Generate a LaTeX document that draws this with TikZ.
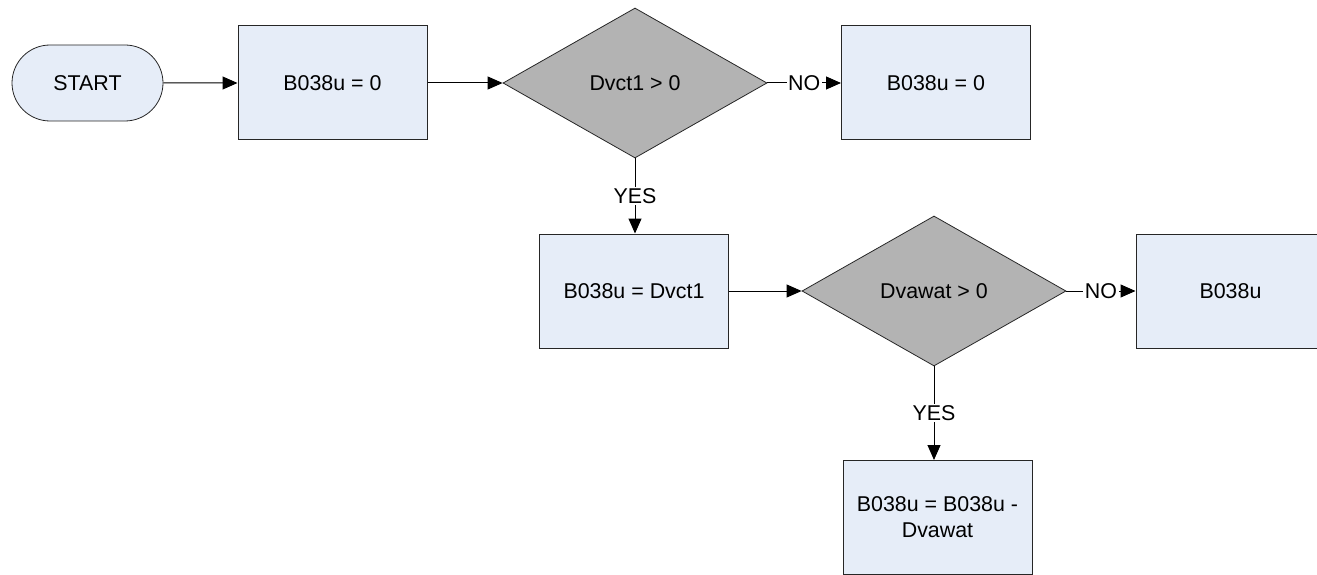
\documentclass[tikz,border=0pt]{standalone}
\usepackage{fontspec}
\setmainfont{Liberation Sans}
\usetikzlibrary{shapes.geometric,shapes.misc,arrows.meta}
\definecolor{boxfill}{HTML}{E6EDF8}
\definecolor{decfill}{HTML}{B3B3B3}
\begin{document}
\begin{tikzpicture}[x=1pt,y=-1pt,
  every node/.style={font=\fontsize{21.4}{26}\selectfont},
  procbox/.style={draw=black!85,fill=boxfill,line width=1pt,minimum width=189pt,minimum height=114pt,inner sep=0pt,align=center},
  decbox/.style={draw=black!85,fill=decfill,line width=0.8pt,diamond,minimum width=264pt,minimum height=150pt,inner sep=0pt},
  termbox/.style={draw=black!85,fill=boxfill,line width=0.8pt,rounded rectangle,minimum width=151pt,minimum height=76pt,inner sep=0pt},
  conn/.style={draw=black,line width=1pt,-{Triangle[length=15pt,width=13pt]}},
  lbl/.style={fill=white,inner sep=1.5pt}
]
\useasboundingbox (0,0) rectangle (1317,575);
\clip (0,0) rectangle (1317,575);
\node[termbox] (start) at (87.5,83) {START};
\node[procbox] (b1) at (332.5,83) {B038u = 0};
\node[decbox] (d1) at (635,83) {Dvct1 > 0};
\node[procbox] (b2) at (936,83) {B038u = 0};
\node[procbox] (b3) at (634,291) {B038u = Dvct1};
\node[decbox] (d2) at (934,291) {Dvawat > 0};
\node[procbox] (b4) at (1230.5,291) {B038u};
\node[procbox] (b5) at (937.5,517.5) {B038u = B038u -\\Dvawat};

\draw[conn] (start) -- (b1);
\draw[conn] (b1) -- (d1);
\draw[conn] (d1) -- node[lbl] {NO} (b2);
\draw[conn] (d1.south) -- node[lbl] {YES} (d1.south |- b3.north);
\draw[conn] (b3) -- (d2);
\draw[conn] (d2) -- node[lbl] {NO} (b4);
\draw[conn] (d2.south) -- node[lbl] {YES} (d2.south |- b5.north);
\end{tikzpicture}
\end{document}
